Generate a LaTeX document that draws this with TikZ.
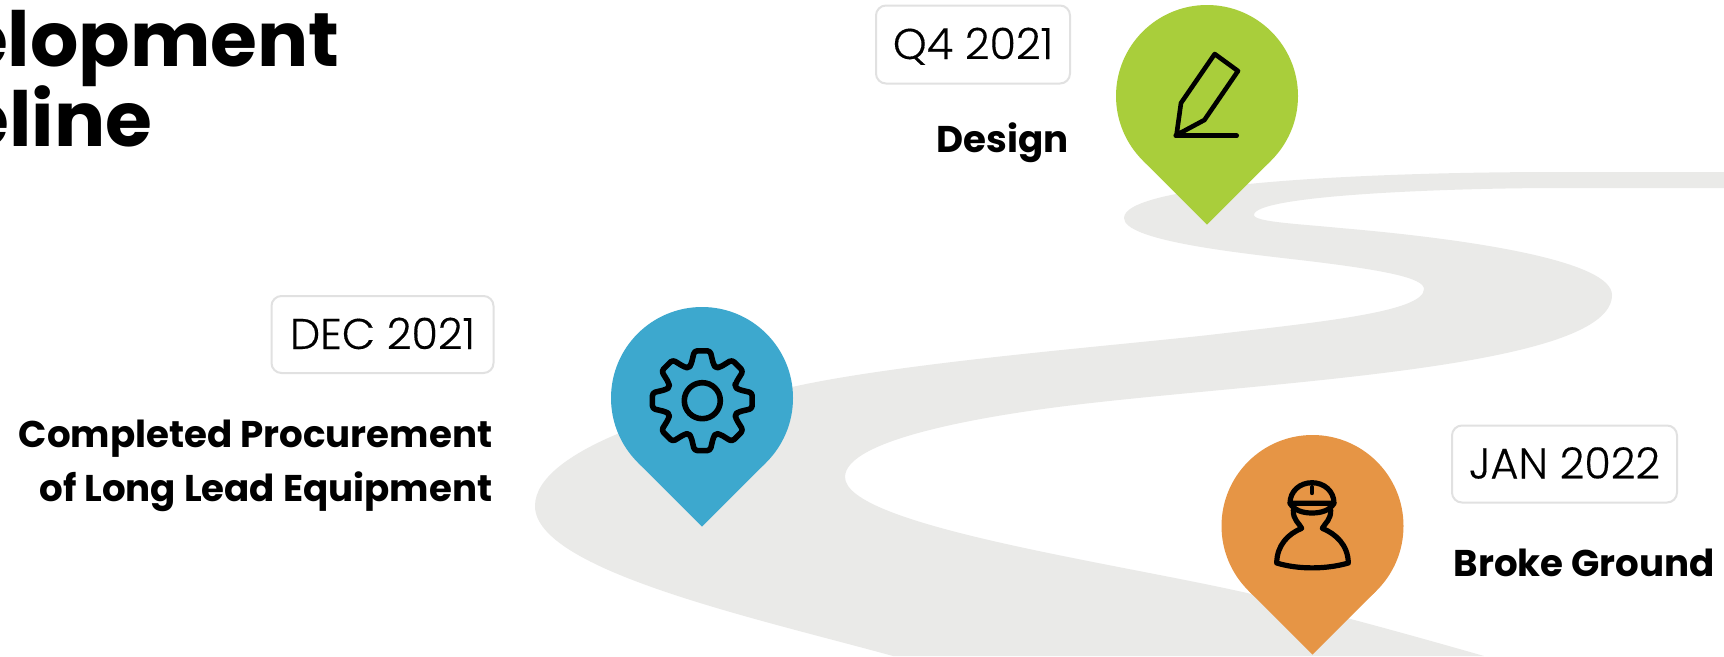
\documentclass[tikz,border=0pt]{standalone}
\usepackage{fontspec}
\setmainfont{Poppins}
\newfontfamily\popreg{Poppins}[UprightFont=* Light,FakeBold=0.3]
\definecolor{roadgray}{HTML}{EAEAE8}
\definecolor{pingreen}{HTML}{A9CE3B}
\definecolor{pinblue}{HTML}{3DA8CE}
\definecolor{pinorange}{HTML}{E69545}
\definecolor{pillline}{HTML}{E1E1E1}
\tikzset{
  datepill/.style={draw=pillline,line width=2pt,rounded corners=10pt,fill=white,inner sep=0pt,text height=31pt,text depth=2pt,font=\popreg\fontsize{43}{43}\selectfont},
  milestone/.style={inner sep=0pt,font=\bfseries\fontsize{37.2}{54}\selectfont},
  heading/.style={inner sep=0pt,font=\bfseries\fontsize{76}{81}\selectfont},
  icon/.style={draw=black,line width=5.2pt,line cap=round,line join=round,fill=none},
  pinbody/.pic={
    \fill[pic actions] (0,0) circle[radius=91pt];
    \fill[pic actions] (-64.35,64.35) -- (0,128.7) -- (64.35,64.35) -- cycle;
  }
}
\begin{document}
\begin{tikzpicture}[x=1pt,y=-1pt]
\useasboundingbox (0,0) rectangle (1724,656);
\clip (0,0) rectangle (1724,656);
\fill[white] (0,0) rectangle (1724,656);
% road
\fill[roadgray] (1724,172) -- (1560,172)
  .. controls (1350,172) and (1124,185) .. (1124,218)
  .. controls (1124,240) and (1230,252) .. (1300,260)
  .. controls (1385,270) and (1424,278) .. (1424,289)
  .. controls (1424,312) and (1320,322) .. (1209,335)
  .. controls (1100,347) and (900,363) .. (792,387)
  .. controls (680,405) and (535,450) .. (535,506)
  .. controls (535,570) and (755,618) .. (893,656)
  -- (1484,656)
  .. controls (1400,632) and (1320,610) .. (1247,593)
  .. controls (1110,562) and (845,525) .. (845,477)
  .. controls (845,440) and (980,415) .. (1100,402)
  .. controls (1300,380) and (1612,365) .. (1612,295)
  .. controls (1612,262) and (1480,240) .. (1340,228)
  .. controls (1300,224) and (1254,222) .. (1254,215)
  .. controls (1254,195) and (1450,188) .. (1560,188)
  -- (1724,188) -- cycle;
% title
\node[heading,anchor=base east] (titleA) at (340,66) {Development};
\node[heading,anchor=base east] (titleB) at (152.5,146) {Timeline};
% pins
\pic[fill=pingreen] at (1207,96) {pinbody};
\pic[fill=pinblue] at (702,398) {pinbody};
\pic[fill=pinorange] at (1312.5,526) {pinbody};
% pencil icon
\draw[icon,line width=4.6pt] (1214.7,54) -- (1238,71) -- (1204.4,120) -- (1176.5,135) -- (1181,103) -- cycle;
\draw[icon,line width=4.6pt] (1175.7,135.7) -- (1236.7,135.7);
% gear icon
\begin{scope}[shift={(702.3,400.7)}]
\draw[icon,line width=5.6pt] (0,0) circle[radius=18pt];
\draw[icon,line width=5.6pt,rounded corners=3pt]
  (-22.5:35.5)
  \foreach \a in {0,45,...,315} {
    -- ({\a-17}:38) -- ({\a-9}:50.5) -- ({\a+9}:50.5) -- ({\a+17}:38) -- ({\a+22.5}:35.5)
  } -- cycle;
\end{scope}
% worker icon
\draw[icon] (1290,503.3) .. controls (1290,491) and (1300,482.7) .. (1312,482.7)
  .. controls (1324,482.7) and (1334,491) .. (1334,503.3);
\draw[icon] (1290,503.3) -- (1334,503.3) .. controls (1330,510) and (1322,513) .. (1312,513)
  .. controls (1302,513) and (1294,510) .. (1290,503.3) -- cycle;
\draw[icon,line width=4.4pt] (1312,487) -- (1312,493);
\draw[icon] (1293.3,510) .. controls (1293,520) and (1299,523) .. (1301.7,528.3)
  .. controls (1288,534) and (1277,545) .. (1276.7,563)
  .. controls (1298,569.5) and (1326,569.5) .. (1348.3,563)
  .. controls (1348,545) and (1336,534) .. (1322.3,528.3)
  .. controls (1325,523) and (1331,520) .. (1330.7,510);
% date pills
\node[datepill,minimum width=194pt,minimum height=78pt] (pillQ) at (973,44.5) {Q4 2021};
\node[datepill,minimum width=222pt,minimum height=77pt] (pillD) at (382.5,334.5) {DEC 2021};
\node[datepill,minimum width=225pt,minimum height=77pt] (pillJ) at (1564.5,464) {JAN 2022};
% labels
\node[milestone,anchor=base east] (labQ) at (1069,152) {Design};
\node[milestone,anchor=base east] (labD1) at (492.5,447) {Completed Procurement};
\node[milestone,anchor=base east] (labD2) at (492.5,501.5) {of Long Lead Equipment};
\node[milestone,anchor=base west] (labJ) at (1453.5,576) {Broke Ground};
\end{tikzpicture}
\end{document}
